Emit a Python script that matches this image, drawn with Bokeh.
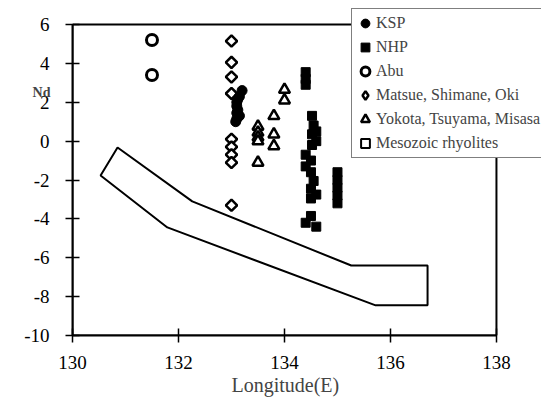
import math
from bokeh.plotting import figure
from bokeh.models import Range1d, FixedTicker, Legend, LegendItem, Label, Title, CustomJSTickFormatter
from bokeh.embed import file_html
from bokeh.resources import INLINE

# ---- data ----
ksp_lon = [133.2, 133.15, 133.1, 133.1, 133.12, 133.1, 133.15, 133.1, 133.08, 133.12]
ksp_nd = [2.6, 2.3, 2.0, 1.8, 1.6, 1.45, 1.3, 1.15, 1.0, 2.15]

nhp_lon = [134.4, 134.4, 134.4,
           134.52, 134.55, 134.6, 134.52, 134.6, 134.52,
           134.4, 134.5, 134.4, 134.5, 134.55, 134.5, 134.6, 134.5,
           135.0, 135.0, 135.0, 135.0, 135.0,
           134.5, 134.4, 134.6]
nhp_nd = [3.55, 3.2, 2.9,
          1.3, 0.8, 0.5, 0.35, 0.0, -0.2,
          -0.7, -1.0, -1.3, -1.6, -2.05, -2.45, -2.75, -2.95,
          -1.6, -2.0, -2.4, -2.8, -3.2,
          -3.85, -4.2, -4.4]

abu_lon = [131.5, 131.5]
abu_nd = [5.2, 3.4]

mat_lon = [133.0, 133.0, 133.0, 133.0, 133.0, 133.0, 133.0, 133.0, 133.0]
mat_nd = [5.15, 4.05, 3.3, 2.45, 0.1, -0.3, -0.7, -1.1, -3.3]

yok_lon = [133.5, 133.5, 133.5, 133.5, 133.5, 133.8, 133.8, 133.8, 134.0, 134.0]
yok_nd = [0.75, 0.45, 0.2, 0.0, -1.1, 1.3, 0.35, -0.25, 2.65, 2.1]

# no Mesozoic rhyolite point is visible in the chart (legend entry only)
meso_lon = [float("nan")]
meso_nd = [float("nan")]

field_lon = [130.85, 132.26, 135.26, 136.7, 136.7, 135.72, 131.79, 130.53]
field_nd = [-0.33, -3.1, -6.4, -6.4, -8.45, -8.45, -4.44, -1.77]

x_min, x_max = 130, 138
y_min, y_max = -10, 6
x_ticks = [130, 132, 134, 136, 138]
y_ticks = [-10, -8, -6, -4, -2, 0, 2, 4, 6]

FONT = "Liberation Serif"

# frame extends past the axes box (to the canvas edges) so the legend is not clipped
p = figure(width=541, height=398, output_backend="svg", toolbar_location=None,
           x_range=Range1d(x_min, 138.85), y_range=Range1d(y_min, 7.235),
           min_border_left=72, min_border_right=0, min_border_top=0, min_border_bottom=63)
p.grid.visible = False
p.outline_line_color = None
p.background_fill_color = "white"
p.border_fill_color = "white"

# axes box (top and right edges)
p.quad(left=[x_min], right=[x_max], bottom=[y_min], top=[y_max],
       fill_color=None, line_color="black", line_width=2)

p.patch(field_lon, field_nd, fill_color=None, line_color="black", line_width=2)

p.scatter(mat_lon, mat_nd, marker="square", angle=math.pi / 4, size=8,
          fill_color="white", line_color="black", line_width=2.5)
# legend swatch for the diamonds (the rotated-square marker is drawn unrotated in legends)
r_mat = p.scatter(meso_lon, meso_nd, marker="diamond", size=12,
                  fill_color="white", line_color="black", line_width=2.5)
r_ksp = p.scatter(ksp_lon, ksp_nd, marker="circle", size=10, fill_color="black", line_color="black")
r_yok = p.scatter(yok_lon, yok_nd, marker="triangle", size=11, fill_color="white",
                  line_color="black", line_width=2.5)
r_nhp = p.scatter(nhp_lon, nhp_nd, marker="square", size=9, fill_color="black", line_color="black")
r_abu = p.scatter(abu_lon, abu_nd, marker="circle", size=11, fill_color="white",
                  line_color="black", line_width=3)
r_meso = p.scatter(meso_lon, meso_nd, marker="square", size=9, fill_color="white",
                   line_color="black", line_width=2)

fmt = CustomJSTickFormatter(code="return tick.toString();")
p.xaxis.bounds = (x_min, x_max)
p.yaxis.bounds = (y_min, y_max)
p.axis.axis_line_width = 2
p.axis.axis_line_color = "black"
p.axis.major_tick_line_width = 1.5
p.axis.major_tick_in = 7
p.axis.major_tick_out = 7
p.axis.minor_tick_line_color = None
p.axis.major_label_text_font = FONT
p.axis.major_label_text_font_size = "19px"
p.axis.major_label_text_color = "black"
p.axis.formatter = fmt
p.xaxis.ticker = FixedTicker(ticks=x_ticks)
p.yaxis.ticker = FixedTicker(ticks=y_ticks)
p.xaxis.major_label_standoff = 13
p.yaxis.major_label_standoff = 16

p.add_layout(Title(text="Longitude(E)", align="left", offset=159, text_font=FONT,
                   text_font_size="20px", text_font_style="normal", standoff=0), "below")

p.add_layout(Label(x=38, y=243, x_units="screen", y_units="screen", text="Nd",
                   text_font=FONT, text_font_style="bold", text_font_size="14px",
                   text_align="center", text_baseline="middle"), "left")

legend = Legend(items=[
    LegendItem(label="KSP", renderers=[r_ksp]),
    LegendItem(label="NHP", renderers=[r_nhp]),
    LegendItem(label="Abu", renderers=[r_abu]),
    LegendItem(label="Matsue, Shimane, Oki", renderers=[r_mat]),
    LegendItem(label="Yokota, Tsuyama, Misasa", renderers=[r_yok]),
    LegendItem(label="Mesozoic rhyolites", renderers=[r_meso]),
], location=(279, 177))
legend.label_text_font = FONT
legend.label_text_font_size = "16px"
legend.label_height = 20
legend.glyph_height = 24
legend.glyph_width = 22
legend.label_standoff = 0
legend.spacing = 0
legend.padding = 2
legend.margin = 0
legend.border_line_color = "black"
legend.border_line_width = 1
legend.background_fill_alpha = 1
p.add_layout(legend)

open("out.html", "w").write(file_html(p, INLINE))
